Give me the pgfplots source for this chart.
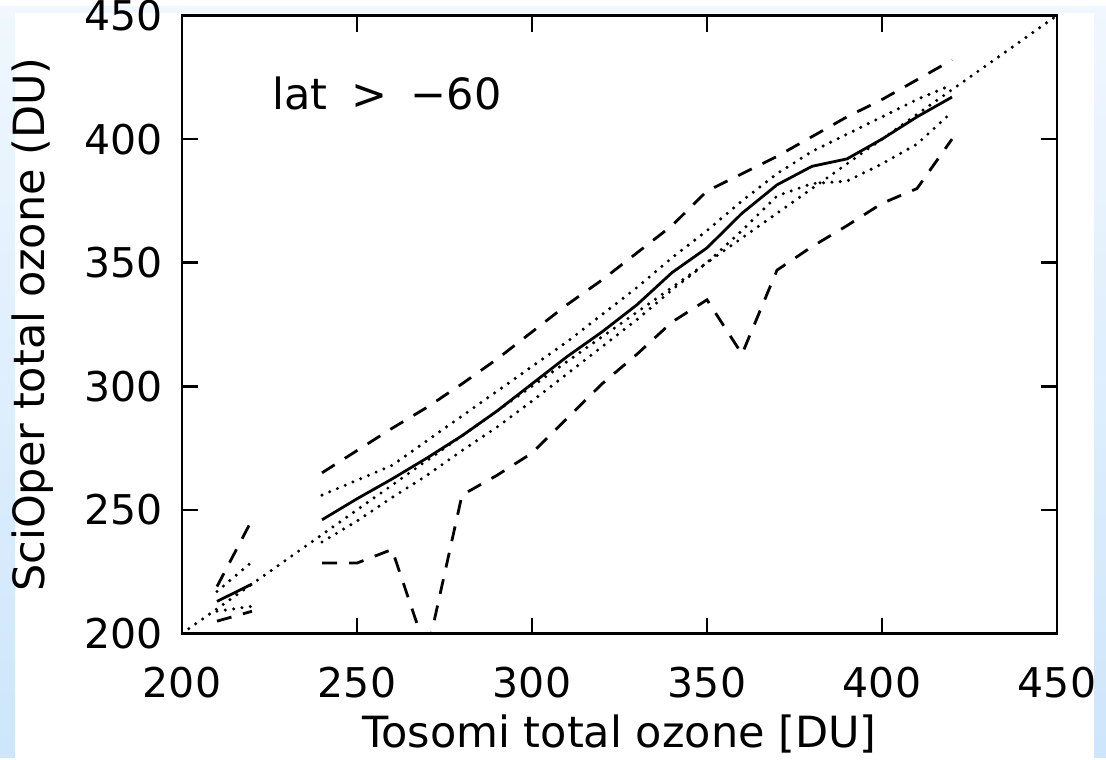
\documentclass[border=0pt]{standalone}
\usepackage{fontspec}
\setmainfont{DejaVu Sans}
\usepackage{pgfplots}
\usepackage{pgfplotstable}
\pgfplotsset{compat=1.18}

\pgfplotstableread{
x    mean   up1   lo1    mx     mn
210  213    217   209    219    205
220  220    229   211    246    209
230  nan    nan   nan    nan    nan
240  246    256   237    265    228.5
250  254.5  262   245.5  274    228.5
260  262.5  268   255    283    234
270  271    278   264    291.5  192
280  280    288   274    301    256
290  290    298   283.5  311    264
300  301    308   294    322    273
310  312    318   305    333    287
320  322    329   316    343    301
330  333    340   327    354    313
340  346    352   339    365    326
350  356    363   350    379    335
360  370    375   363    386    313
370  381.5  386   377    393    347
380  389    395   382    401    356.5
390  392    402   383    409    365
400  400    409   390    416    374
410  409    416   398    424    380
420  417    422   411    432    400
}\data

\begin{document}
\begin{tikzpicture}
\def\fs{\fontsize{20.5}{24}\selectfont}
\def\fl{\fontsize{21.5}{25}\selectfont}
% background
\shade[top color={rgb,255:red,240;green,247;blue,254}, bottom color={rgb,255:red,205;green,230;blue,251}]
  (-91pt,-62pt) rectangle (462pt,313.5pt);
\fill[white] (-83.5pt,-62pt) rectangle (456pt,310pt);
\begin{axis}[
  scale only axis,
  width=437.5pt, height=309pt,
  xmin=200, xmax=450, ymin=200, ymax=450,
  xtick={200,250,...,450}, ytick={200,250,...,450},
  tick align=inside,
  major tick length=8pt,
  every tick/.style={black, line width=1.35pt},
  axis line style={line width=1.35pt},
  /pgf/number format/assume math mode=true,
  tick label style={font=\fs, inner sep=0pt},
  xticklabel style={anchor=north, yshift=-16.5pt},
  yticklabel style={anchor=east, xshift=-9.5pt},
  label style={font=\fl},
  xlabel={Tosomi total ozone [DU]},
  ylabel={SciOper total ozone (DU)},
  xlabel style={at={(axis description cs:0.5,-0.1845)}, anchor=base},
  ylabel style={at={(axis description cs:-0.1566,0.5)}, anchor=base},
  unbounded coords=jump,
  clip=true,
  dotstyle/.style={black, line width=1.7pt, line cap=round, dash pattern=on 0pt off 4.2pt},
  dashstyle/.style={black, line width=1.4pt, dash pattern=on 7.5pt off 6pt},
]
\addplot[dotstyle] coordinates {(200,200) (450,450)};
\addplot[black, line width=1.4pt] table[x=x, y=mean] {\data};
\addplot[dotstyle] table[x=x, y=up1] {\data};
\addplot[dotstyle] table[x=x, y=lo1] {\data};
\addplot[dashstyle] table[x=x, y=mx] {\data};
\addplot[dashstyle] table[x=x, y=mn] {\data};
\node[font=\fl, anchor=base west, inner sep=0pt] at (axis cs:225.7,412) {lat\hspace{5pt} > \hspace{5pt}−60};
\end{axis}
\end{tikzpicture}
\end{document}
